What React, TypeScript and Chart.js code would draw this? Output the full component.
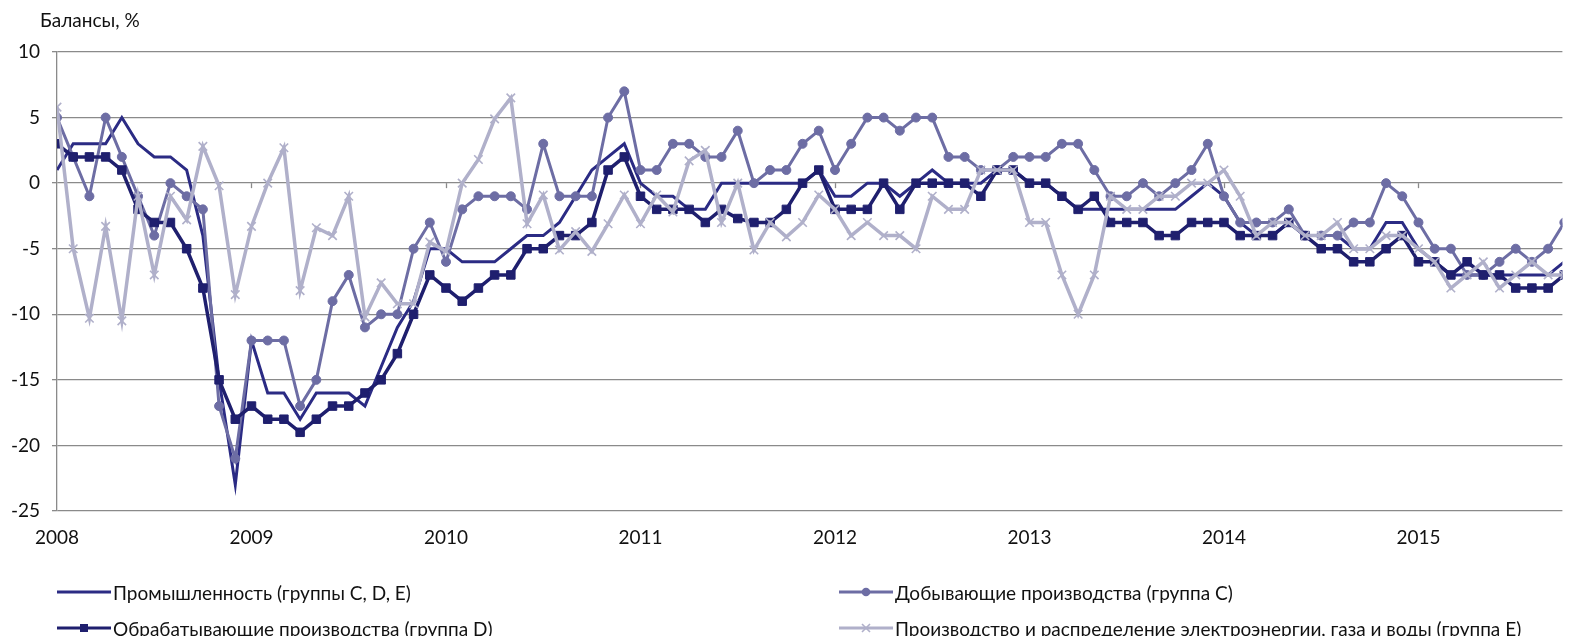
import React, { useEffect, useRef } from 'react';
import { Chart, registerables } from 'chart.js';

Chart.register(...registerables);

// ---- Data (monthly balances, %, from Jan 2008) ----
const START_YEAR = 2008;
const yearTickMonths = [0, 12, 24, 36, 48, 60, 72, 84];
const X_MAX = 92.88; // visible range ends in Oct 2015 (chart cropped at right)
const Y_MIN = -25;
const Y_MAX = 10;

const seriesLabels = [
  'Промышленность (группы C, D, E)',
  'Добывающие производства (группа C)',
  'Обрабатывающие производства (группа D)',
  'Производство и распределение электроэнергии, газа и воды (группа E)',
];

const industry = [
  1, 3, 3, 3, 5, 3, 2, 2, 1, -4,
  -15, -23, -12, -16, -16, -18, -16, -16, -16, -17,
  -14, -11, -9, -5, -5, -6, -6, -6, -5, -4,
  -4, -3, -1, 1, 2, 3, 0, -1, -1, -2,
  -2, 0, 0, 0, 0, 0, 0, 1, -1, -1,
  0, 0, -1, 0, 1, 0, 0, 0, 1, 1,
  0, 0, -1, -2, -2, -2, -2, -2, -2, -2,
  -1, 0, -1, -3, -4, -4, -3, -4, -4, -4,
  -5, -5, -3, -3, -5, -6, -7, -7, -7, -7,
  -7, -7, -7, -6,
];

const mining = [
  5, 2, -1, 5, 2, -1, -4, 0, -1, -2,
  -17, -21, -12, -12, -12, -17, -15, -9, -7, -11,
  -10, -10, -5, -3, -6, -2, -1, -1, -1, -2,
  3, -1, -1, -1, 5, 7, 1, 1, 3, 3,
  2, 2, 4, 0, 1, 1, 3, 4, 1, 3,
  5, 5, 4, 5, 5, 2, 2, 1, 1, 2,
  2, 2, 3, 3, 1, -1, -1, 0, -1, 0,
  1, 3, -1, -3, -3, -3, -2, -4, -4, -4,
  -3, -3, 0, -1, -3, -5, -5, -7, -7, -6,
  -5, -6, -5, -3,
];

const manufacturing = [
  3, 2, 2, 2, 1, -2, -3, -3, -5, -8,
  -15, -18, -17, -18, -18, -19, -18, -17, -17, -16,
  -15, -13, -10, -7, -8, -9, -8, -7, -7, -5,
  -5, -4, -4, -3, 1, 2, -1, -2, -2, -2,
  -3, -2, -2.7, -3, -3, -2, 0, 1, -2, -2,
  -2, 0, -2, 0, 0, 0, 0, -1, 1, 1,
  0, 0, -1, -2, -1, -3, -3, -3, -4, -4,
  -3, -3, -3, -4, -4, -4, -3, -4, -5, -5,
  -6, -6, -5, -4, -6, -6, -7, -6, -7, -7,
  -8, -8, -8, -7,
];

const utilities = [
  5.8, -5, -10.3, -3.3, -10.5, -1, -7, -1, -2.8, 2.8,
  -0.2, -8.5, -3.3, 0, 2.7, -8.2, -3.4, -4, -1, -10.2,
  -7.6, -9.2, -9.2, -4.5, -5.2, 0, 1.8, 4.9, 6.5, -3.1,
  -0.9, -5.1, -3.7, -5.2, -3.1, -0.9, -3.1, -0.9, -2.2, 1.7,
  2.5, -3, 0, -5.1, -3, -4.1, -3, -0.9, -2, -4,
  -3, -4, -4, -5, -1, -2, -2, 1, 1, 1,
  -3, -3, -7, -10, -7, -1, -2, -2, -1, -1,
  0, 0, 1, -1, -4, -3, -3, -4, -4, -3,
  -5, -5, -4, -4, -5, -6, -8, -7, -6, -8,
  -7, -6, -7, -7,
];

const COLORS = {
  industry: '#2b2b84',
  mining: '#6d6da4',
  manufacturing: '#1f1f6e',
  utilities: '#b0b0ca',
};

const FONT = 'Lato, "Open Sans", sans-serif';
const GRID = '#8a8a8a';

const toPoints = (arr: number[]) => arr.map((v, i) => ({ x: i, y: v }));

const titlePlugin = {
  id: 'yTitle',
  afterDraw(chart: any) {
    const ctx = chart.ctx;
    ctx.save();
    ctx.font = `19px ${FONT}`;
    ctx.fillStyle = '#111';
    ctx.textBaseline = 'middle';
    ctx.textAlign = 'left';
    ctx.fillText('Балансы, %', 40, 21);
    ctx.restore();
  },
};

const yearTickPlugin = {
  id: 'yearTicks',
  beforeDatasetsDraw(chart: any) {
    const { ctx, scales } = chart;
    const xs = scales.x;
    const y0 = scales.y.getPixelForValue(0);
    ctx.save();
    ctx.strokeStyle = GRID;
    ctx.lineWidth = 1.3;
    yearTickMonths.slice(1).forEach((m) => {
      const px = Math.round(xs.getPixelForValue(m)) + 0.5;
      ctx.beginPath();
      ctx.moveTo(px, y0);
      ctx.lineTo(px, y0 + 5);
      ctx.stroke();
    });
    ctx.restore();
  },
};

function LegendIcon({ color, marker }: { color: string; marker: string }) {
  return (
    <svg width={54} height={14} style={{ display: 'block' }}>
      <line x1={0} y1={7} x2={54} y2={7} stroke={color} strokeWidth={3.2} />
      {marker === 'rect' && <rect x={23} y={3} width={8} height={8} fill={color} />}
      {marker === 'circle' && <circle cx={27} cy={7} r={4.3} fill={color} />}
      {marker === 'cross' && (
        <path d="M23 3 L31 11 M31 3 L23 11" stroke={color} strokeWidth={1.6} />
      )}
    </svg>
  );
}

const legendItems = [
  { label: seriesLabels[0], color: COLORS.industry, marker: 'none', left: 57, top: 592 },
  { label: seriesLabels[1], color: COLORS.mining, marker: 'circle', left: 839, top: 592 },
  { label: seriesLabels[2], color: COLORS.manufacturing, marker: 'rect', left: 57, top: 628 },
  { label: seriesLabels[3], color: COLORS.utilities, marker: 'cross', left: 839, top: 628 },
];

export default function App() {
  const canvasRef = useRef<HTMLCanvasElement | null>(null);

  useEffect(() => {
    document.body.style.margin = '0';
    const canvas = canvasRef.current;
    if (!canvas) return;
    const chart = new Chart(canvas, {
      type: 'line',
      data: {
        datasets: [
          {
            label: seriesLabels[3],
            data: toPoints(utilities),
            borderColor: COLORS.utilities,
            backgroundColor: COLORS.utilities,
            borderWidth: 3.5,
            pointStyle: 'crossRot',
            pointRadius: 6,
            pointBorderWidth: 1.6,
            pointBorderColor: COLORS.utilities,
            order: 1,
          },
          {
            label: seriesLabels[2],
            data: toPoints(manufacturing),
            borderColor: COLORS.manufacturing,
            backgroundColor: COLORS.manufacturing,
            borderWidth: 3.5,
            pointStyle: 'rect',
            pointRadius: 6,
            pointBorderWidth: 1,
            order: 2,
          },
          {
            label: seriesLabels[1],
            data: toPoints(mining),
            borderColor: COLORS.mining,
            backgroundColor: COLORS.mining,
            borderWidth: 3,
            pointStyle: 'circle',
            pointRadius: 4.5,
            pointBorderWidth: 1,
            order: 3,
          },
          {
            label: seriesLabels[0],
            data: toPoints(industry),
            borderColor: COLORS.industry,
            backgroundColor: COLORS.industry,
            borderWidth: 3,
            pointRadius: 0,
            order: 4,
          },
        ],
      },
      options: {
        animation: false,
        responsive: false,
        devicePixelRatio: 1,
        parsing: true,
        layout: { padding: { top: 52, right: 0, left: 0, bottom: 0 } },
        elements: { line: { tension: 0 } },
        plugins: {
          legend: { display: false },
          tooltip: { enabled: false },
          title: { display: false },
        },
        scales: {
          x: {
            type: 'linear',
            min: 0,
            max: X_MAX,
            grid: { display: false, drawTicks: false },
            border: { display: false },
            afterBuildTicks: (scale: any) => {
              scale.ticks = yearTickMonths.map((v) => ({ value: v }));
            },
            afterFit: (scale: any) => {
              scale.height = 125;
            },
            ticks: {
              autoSkip: false,
              maxRotation: 0,
              padding: 15,
              color: '#111',
              font: { family: FONT, size: 19 },
              callback: (v: any) => String(START_YEAR + Math.round(Number(v) / 12)),
            },
          },
          y: {
            min: Y_MIN,
            max: Y_MAX,
            afterFit: (scale: any) => {
              scale.width = 57;
            },
            grid: { color: GRID, lineWidth: 1.3, tickLength: 5, drawTicks: true },
            border: { display: true, color: GRID, width: 1.3 },
            ticks: {
              stepSize: 5,
              padding: 12,
              color: '#111',
              font: { family: FONT, size: 19 },
            },
          },
        },
      },
      plugins: [titlePlugin, yearTickPlugin],
    });
    return () => chart.destroy();
  }, []);

  return (
    <div style={{ position: 'relative', width: 1570, height: 636, overflow: 'hidden', background: '#fff' }}>
      <canvas ref={canvasRef} width={1570} height={636} style={{ display: 'block' }} />
      {legendItems.map((it) => (
        <div
          key={it.label}
          style={{
            position: 'absolute',
            left: it.left,
            top: it.top - 14,
            height: 28,
            display: 'flex',
            alignItems: 'center',
            whiteSpace: 'nowrap',
            fontFamily: FONT,
            fontSize: 19,
            color: '#111',
          }}
        >
          <LegendIcon color={it.color} marker={it.marker} />
          <span style={{ marginLeft: 2 }}>{it.label}</span>
        </div>
      ))}
    </div>
  );
}
